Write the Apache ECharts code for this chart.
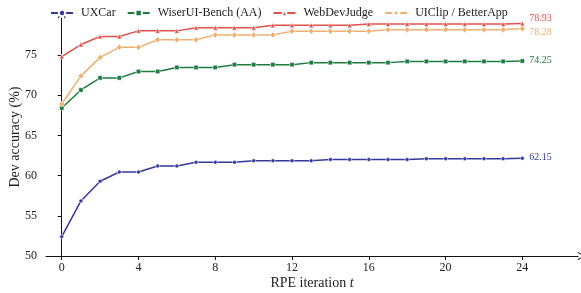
<!DOCTYPE html>
<html>
<head>
<meta charset="utf-8">
<script src="https://cdn.jsdelivr.net/npm/echarts@6/dist/echarts.min.js"></script>
<style>
  html, body { margin: 0; padding: 0; background: #fff; }
  #grf { width: 581px; height: 293px; }
</style>
</head>
<body>
<div id="grf"></div>
<script>
// iteracoes RPE
var iteracoes = [0,1,2,3,4,5,6,7,8,9,10,11,12,13,14,15,16,17,18,19,20,21,22,23,24];

// curvas de acuracia
var uxcar    = [52.4, 56.85, 59.3, 60.45, 60.45, 61.2, 61.2, 61.65, 61.65, 61.65, 61.85, 61.85, 61.85, 61.85, 62.0, 62.0, 62.0, 62.0, 62.0, 62.1, 62.1, 62.1, 62.1, 62.1, 62.15];
var wiserui  = [68.4, 70.65, 72.15, 72.15, 72.95, 72.95, 73.45, 73.45, 73.45, 73.8, 73.8, 73.8, 73.8, 74.05, 74.05, 74.05, 74.05, 74.05, 74.2, 74.2, 74.2, 74.2, 74.2, 74.2, 74.25];
var webdev   = [74.8, 76.3, 77.3, 77.3, 78.0, 78.0, 78.0, 78.4, 78.4, 78.4, 78.4, 78.7, 78.7, 78.7, 78.7, 78.7, 78.85, 78.85, 78.85, 78.85, 78.85, 78.85, 78.85, 78.85, 78.93];
var uiclip   = [68.9, 72.4, 74.7, 75.95, 75.95, 76.9, 76.9, 76.9, 77.5, 77.5, 77.5, 77.5, 77.95, 77.95, 77.95, 77.95, 77.95, 78.15, 78.15, 78.15, 78.15, 78.15, 78.15, 78.15, 78.28];

var nomes   = ['UXCar', 'WiserUI-Bench (AA)', 'WebDevJudge', 'UIClip / BetterApp'];
var ticksX  = [0, 4, 8, 12, 16, 20, 24];
var ticksY  = [50, 55, 60, 65, 70, 75];

var fonte = 'Liberation Serif';
var seta = 'path://M5,0 L10,8 L9,8.8 L5,1.6 L1,8.8 L0,8 Z';

var grafico = echarts.init(document.getElementById('grf'));

function pares(valores) {
	var d = [];
	for (var i = 0; i < iteracoes.length; i++) {
		d.push([iteracoes[i], valores[i]]);
	}
	return d;
}

function serie(nome, valores, cor, simbolo, tam, desloc) {
	return {
		name: nome,
		type: 'line',
		data: pares(valores),
		symbol: simbolo,
		symbolSize: tam,
		showAllSymbol: true,
		lineStyle: { color: cor, width: 1.5 },
		itemStyle: { color: cor, borderColor: '#fff', borderWidth: 0.6 },
		endLabel: {
			show: true,
			distance: 7,
			offset: desloc,
			color: cor,
			fontFamily: fonte,
			fontSize: 10,
			formatter: function (p) { return p.value[1].toFixed(2); }
		},
		animation: false
	};
}

var opcoes = {
	textStyle: { fontFamily: fonte },
	color: ['#34389a', '#1d7a43', '#e0514a', '#ecb073'],
	legend: {
		top: 2,
		left: 45,
		itemWidth: 22,
		itemHeight: 8,
		itemGap: 11,
		textStyle: { fontFamily: fonte, fontSize: 12, color: '#222', padding: [0, 0, 0, 3] },
		data: nomes
	},
	grid: { left: 46, right: 3, top: 18, bottom: 37, outerBoundsMode: 'none' },
	xAxis: {
		type: 'value',
		min: -0.82,
		max: 26.9,
		name: 'RPE iteration {i|t}',
		nameLocation: 'middle',
		nameGap: 20,
		nameMoveOverlap: false,
		nameTextStyle: {
			fontFamily: fonte, fontSize: 14, color: '#222',
			rich: { i: { fontFamily: fonte, fontStyle: 'italic', fontSize: 14, color: '#222' } }
		},
		axisLine: { show: true, lineStyle: { color: '#111', width: 1 }, symbol: ['none', seta], symbolSize: [9, 7], symbolOffset: [0, 3] },
		axisTick: { show: true, length: 4, customValues: ticksX, lineStyle: { color: '#111' } },
		axisLabel: { customValues: ticksX, fontFamily: fonte, fontSize: 12, color: '#222', margin: 6 },
		splitLine: { show: false }
	},
	yAxis: {
		type: 'value',
		min: 50,
		max: 79.6,
		name: 'Dev accuracy (%)',
		nameLocation: 'middle',
		nameGap: 24,
		nameMoveOverlap: false,
		nameRotate: 90,
		nameTextStyle: { fontFamily: fonte, fontSize: 14, color: '#222' },
		axisLine: { show: true, lineStyle: { color: '#111', width: 1 }, symbol: ['none', seta], symbolSize: [9, 7], symbolOffset: [0, 3] },
		axisTick: { show: true, length: 4, customValues: ticksY, lineStyle: { color: '#111' } },
		axisLabel: { customValues: ticksY, fontFamily: fonte, fontSize: 12, color: '#222', margin: 9 },
		splitLine: { show: false }
	},
	series: [
		serie(nomes[0], uxcar, '#34389a', 'circle', 4, [0, -1]),
		serie(nomes[1], wiserui, '#1d7a43', 'rect', 4.5, [0, -1]),
		serie(nomes[2], webdev, '#e0514a', 'triangle', 5, [0, -5]),
		serie(nomes[3], uiclip, '#ecb073', 'diamond', 6, [0, 4])
	]
};

grafico.setOption(opcoes);
</script>
</body>
</html>
